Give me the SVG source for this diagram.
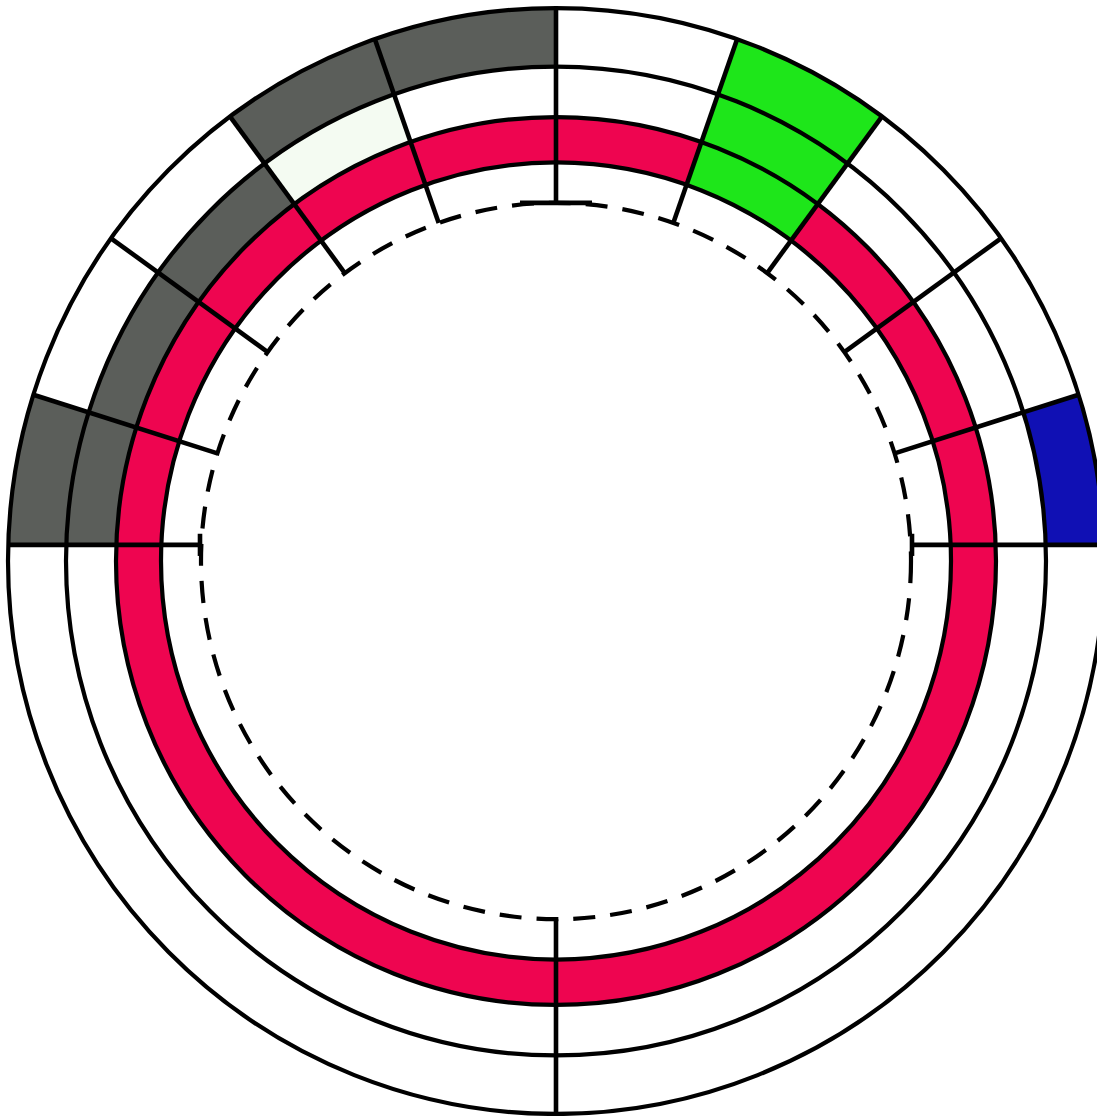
<svg xmlns="http://www.w3.org/2000/svg" width="1097" height="1116" viewBox="0 0 1097 1116">
  <style>
    .ring { fill: none; stroke: #000; stroke-width: 4.2; }
    .div { stroke: #000; stroke-width: 4.6; fill: none; stroke-linecap: butt; }
    .grey { fill: #5b5e5a; }
    .light { fill: #f4fbf2; }
    .green { fill: #1ee61a; }
    .blue { fill: #1010b4; }
  </style>
  <rect width="1097" height="1116" fill="#ffffff"/>
  <g transform="translate(556,561) scale(1,1.009)">
    <g id="red-ring">
      <circle r="417.5" fill="none" stroke="#ee0550" stroke-width="45"/>
    </g>
    <g id="cell-grey-top">
      <path class="grey" d="M -325.9 -440.5 A 548 548 0 0 1 0 -548 L 0 -490 A 490 490 0 0 0 -291.5 -393.9 Z"/>
    </g>
    <g id="cell-light">
      <path class="light" d="M -291.5 -393.9 A 490 490 0 0 1 -161.9 -462.5 L -145.4 -415.3 A 440 440 0 0 0 -261.7 -353.7 Z"/>
    </g>
    <g id="cell-grey-inner">
      <path class="grey" d="M -489.74 -16 A 490 490 0 0 1 -291.5 -393.9 L -261.7 -353.7 A 440 440 0 0 0 -439.71 -16 Z"/>
    </g>
    <g id="cell-grey-left">
      <path class="grey" d="M -547.77 -16 A 548 548 0 0 1 -522.6 -164.8 L -467.3 -147.3 A 490 490 0 0 0 -489.74 -16 Z"/>
    </g>
    <g id="cell-green">
      <path class="green" d="M 181.1 -517.2 A 548 548 0 0 1 325.9 -440.5 L 234.9 -317.5 A 395 395 0 0 0 130.5 -372.8 Z"/>
    </g>
    <g id="cell-blue">
      <path class="blue" d="M 522.6 -164.8 A 548 548 0 0 1 547.77 -16 L 489.74 -16 A 490 490 0 0 0 467.3 -147.3 Z"/>
    </g>
    <g id="rings">
      <circle class="ring" r="548"/>
      <circle class="ring" r="490"/>
      <circle class="ring" r="440" stroke-width="4.8"/>
      <circle class="ring" r="395" stroke-width="4.8"/>
      <circle class="ring" r="355" stroke-width="4.6" stroke-dasharray="22 15"/>
    </g>
    <g id="connectors">
      <line class="div" x1="0" y1="-355" x2="0" y2="-548" stroke-width="5.5"/>
      <line class="div" x1="0" y1="355" x2="0" y2="548"/>
      <line class="div" x1="-547.77" y1="-16" x2="-356" y2="-16"/>
      <line class="div" x1="356" y1="-16" x2="547.77" y2="-16"/>
      <line class="div" x1="117.3" y1="-335.0" x2="181.1" y2="-517.2"/>
      <line class="div" x1="-117.3" y1="-335.0" x2="-181.1" y2="-517.2"/>
      <line class="div" x1="211.2" y1="-285.4" x2="325.9" y2="-440.5"/>
      <line class="div" x1="-211.2" y1="-285.4" x2="-325.9" y2="-440.5"/>
      <line class="div" x1="288.3" y1="-207.1" x2="445.0" y2="-319.8"/>
      <line class="div" x1="-288.3" y1="-207.1" x2="-445.0" y2="-319.8"/>
      <line class="div" x1="338.6" y1="-106.7" x2="522.6" y2="-164.8"/>
      <line class="div" x1="-338.6" y1="-106.7" x2="-522.6" y2="-164.8"/>
      <line class="div" x1="-36" y1="-355" x2="36" y2="-355"/>
      <line class="div" x1="-356" y1="-27" x2="-356" y2="-5"/>
      <line class="div" x1="356" y1="-27" x2="356" y2="-5"/>
    </g>
  </g>
</svg>
